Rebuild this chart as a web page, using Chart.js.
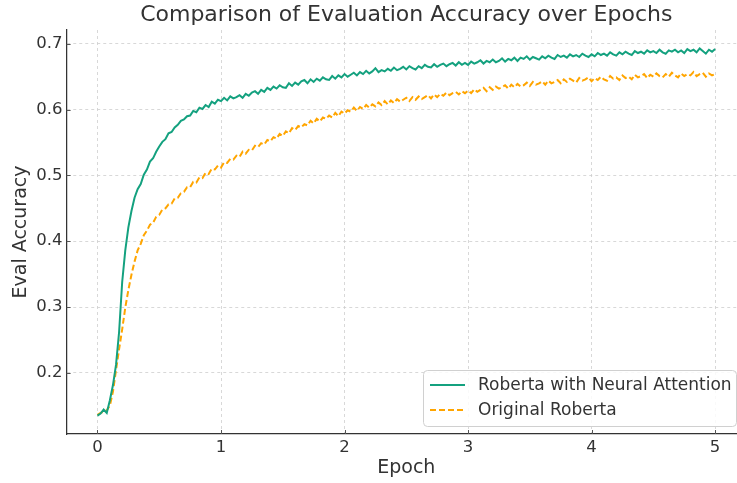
<!DOCTYPE html>
<html>
<head>
<meta charset="utf-8">
<script src="https://cdn.jsdelivr.net/npm/chart.js@4.4.1/dist/chart.umd.min.js"></script>
<style>
  html, body { margin: 0; padding: 0; background: #fff; overflow: hidden; }
  #wrap { width: 760px; height: 483px; position: relative; }
</style>
</head>
<body>
<div id="wrap"><canvas id="accChart"></canvas></div>
<script>
// epochs sampled every 0.025 (201 points, 0 .. 5)
const epochStep = 0.025;
const epochs = Array.from({ length: 201 }, (_, i) => +(i * epochStep).toFixed(3));

const xTicks = [0, 1, 2, 3, 4, 5];
const yTicks = [0.2, 0.3, 0.4, 0.5, 0.6, 0.7];

const neuralAttention = [
  0.135, 0.138, 0.144, 0.139, 0.158, 0.181, 0.212, 0.262,
  0.338, 0.386, 0.421, 0.446, 0.466, 0.479, 0.487, 0.501,
  0.509, 0.521, 0.526, 0.536, 0.544, 0.551, 0.555, 0.564,
  0.566, 0.573, 0.577, 0.583, 0.585, 0.590, 0.591, 0.598,
  0.596, 0.603, 0.601, 0.607, 0.604, 0.612, 0.609, 0.615,
  0.613, 0.618, 0.614, 0.620, 0.617, 0.619, 0.622, 0.618,
  0.624, 0.621, 0.626, 0.628, 0.624, 0.630, 0.627, 0.633,
  0.630, 0.635, 0.632, 0.637, 0.634, 0.633, 0.640, 0.636,
  0.641, 0.638, 0.643, 0.645, 0.640, 0.646, 0.642, 0.647,
  0.644, 0.649, 0.646, 0.645, 0.651, 0.647, 0.652, 0.649,
  0.654, 0.650, 0.653, 0.656, 0.652, 0.657, 0.654, 0.659,
  0.655, 0.658, 0.663, 0.657, 0.660, 0.658, 0.662, 0.659,
  0.664, 0.660, 0.662, 0.665, 0.661, 0.666, 0.663, 0.661,
  0.666, 0.663, 0.668, 0.665, 0.664, 0.669, 0.665, 0.668,
  0.670, 0.666, 0.669, 0.671, 0.667, 0.672, 0.668, 0.671,
  0.668, 0.673, 0.670, 0.672, 0.675, 0.670, 0.674, 0.672,
  0.676, 0.672, 0.674, 0.678, 0.673, 0.677, 0.675, 0.679,
  0.674, 0.679, 0.677, 0.681, 0.676, 0.680, 0.678, 0.676,
  0.681, 0.678, 0.682, 0.679, 0.677, 0.683, 0.680, 0.682,
  0.679, 0.684, 0.681, 0.683, 0.680, 0.685, 0.682, 0.680,
  0.684, 0.681, 0.686, 0.683, 0.685, 0.682, 0.687, 0.684,
  0.682, 0.687, 0.684, 0.688, 0.685, 0.683, 0.689, 0.686,
  0.688, 0.685, 0.690, 0.687, 0.689, 0.686, 0.691, 0.687,
  0.685, 0.690, 0.688, 0.691, 0.687, 0.690, 0.686, 0.692,
  0.689, 0.691, 0.687, 0.693, 0.689, 0.685, 0.691, 0.688,
  0.692
];

const originalRoberta = [
  0.136, 0.139, 0.141, 0.143, 0.150, 0.171, 0.204, 0.236,
  0.266, 0.299, 0.326, 0.349, 0.369, 0.386, 0.396, 0.409,
  0.416, 0.425, 0.428, 0.437, 0.440, 0.448, 0.450, 0.456,
  0.457, 0.465, 0.466, 0.473, 0.475, 0.482, 0.482, 0.490,
  0.489, 0.497, 0.496, 0.504, 0.502, 0.510, 0.509, 0.515,
  0.512, 0.520, 0.519, 0.525, 0.524, 0.530, 0.528, 0.536,
  0.533, 0.539, 0.538, 0.545, 0.543, 0.549, 0.547, 0.554,
  0.552, 0.558, 0.556, 0.563, 0.560, 0.567, 0.564, 0.572,
  0.569, 0.575, 0.573, 0.578, 0.576, 0.583, 0.579, 0.586,
  0.582, 0.588, 0.586, 0.591, 0.588, 0.595, 0.590, 0.597,
  0.594, 0.599, 0.597, 0.603, 0.598, 0.604, 0.601, 0.607,
  0.603, 0.608, 0.605, 0.611, 0.607, 0.613, 0.608, 0.614,
  0.610, 0.616, 0.612, 0.615, 0.618, 0.613, 0.619, 0.615,
  0.620, 0.616, 0.619, 0.622, 0.617, 0.623, 0.619, 0.624,
  0.621, 0.626, 0.622, 0.625, 0.627, 0.623, 0.628, 0.625,
  0.629, 0.625, 0.631, 0.627, 0.630, 0.633, 0.628, 0.634,
  0.630, 0.635, 0.632, 0.634, 0.637, 0.632, 0.638, 0.634,
  0.639, 0.635, 0.637, 0.641, 0.636, 0.642, 0.638, 0.640,
  0.643, 0.638, 0.644, 0.640, 0.642, 0.645, 0.640, 0.646,
  0.642, 0.647, 0.644, 0.641, 0.648, 0.644, 0.646, 0.649,
  0.643, 0.648, 0.645, 0.650, 0.646, 0.644, 0.651, 0.647,
  0.649, 0.645, 0.652, 0.648, 0.650, 0.646, 0.653, 0.649,
  0.651, 0.654, 0.648, 0.653, 0.650, 0.655, 0.651, 0.649,
  0.654, 0.650, 0.656, 0.652, 0.649, 0.655, 0.651, 0.654,
  0.652, 0.657, 0.651, 0.654, 0.656, 0.650, 0.655, 0.652,
  0.654
];

const green = "#14a17f";
const orange = "#ffa500";
const textColor = "#333333";
const fontFamily = "'DejaVu Sans', sans-serif";

const toPoints = (vals) => vals.map((v, i) => ({ x: epochs[i], y: v }));

// title, inward tick marks and matplotlib-like legend box drawn on the canvas
const extrasPlugin = {
  id: "extras",
  afterDraw(chart) {
    const { ctx, chartArea, scales } = chart;
    ctx.save();

    ctx.strokeStyle = "#555";
    ctx.lineWidth = 1;
    ctx.beginPath();
    xTicks.forEach((v) => {
      const x = Math.round(scales.x.getPixelForValue(v)) + 0.5;
      ctx.moveTo(x, chartArea.bottom);
      ctx.lineTo(x, chartArea.bottom - 4);
    });
    yTicks.forEach((v) => {
      const y = Math.round(scales.y.getPixelForValue(v)) + 0.5;
      ctx.moveTo(chartArea.left, y);
      ctx.lineTo(chartArea.left + 4, y);
    });
    ctx.stroke();

    ctx.fillStyle = textColor;
    ctx.font = "22px " + fontFamily;
    ctx.textAlign = "center";
    ctx.textBaseline = "middle";
    ctx.fillText("Comparison of Evaluation Accuracy over Epochs", (chartArea.left + chartArea.right) / 2, 15);

    const boxW = 313, boxH = 56;
    const bx = chartArea.right - 10 - boxW;
    const by = chartArea.bottom - 8 - boxH;
    ctx.fillStyle = "rgba(255,255,255,0.85)";
    ctx.strokeStyle = "#d0d0d0";
    ctx.lineWidth = 1;
    ctx.beginPath();
    ctx.roundRect(bx + 0.5, by + 0.5, boxW, boxH, 4);
    ctx.fill();
    ctx.stroke();

    const items = [
      { label: "Roberta with Neural Attention", color: green, dash: [] },
      { label: "Original Roberta", color: orange, dash: [6, 3] },
    ];
    ctx.font = "17px " + fontFamily;
    ctx.textAlign = "left";
    items.forEach((it, k) => {
      const y = by + 15 + k * 25;
      ctx.strokeStyle = it.color;
      ctx.lineWidth = 2;
      ctx.setLineDash(it.dash);
      ctx.beginPath();
      ctx.moveTo(bx + 7, y);
      ctx.lineTo(bx + 42, y);
      ctx.stroke();
      ctx.setLineDash([]);
      ctx.fillStyle = textColor;
      ctx.fillText(it.label, bx + 55, y + 1);
    });
    ctx.restore();
  },
};

new Chart(document.getElementById("accChart"), {
  type: "line",
  data: {
    datasets: [
      {
        label: "Roberta with Neural Attention",
        data: toPoints(neuralAttention),
        borderColor: green,
        borderWidth: 2,
        pointRadius: 0,
        tension: 0,
        fill: false,
      },
      {
        label: "Original Roberta",
        data: toPoints(originalRoberta),
        borderColor: orange,
        borderWidth: 2,
        borderDash: [6, 3],
        pointRadius: 0,
        tension: 0,
        fill: false,
      },
    ],
  },
  options: {
    responsive: true,
    maintainAspectRatio: false,
    animation: false,
    layout: { padding: { top: 30, right: 14, left: 0, bottom: 0 } },
    plugins: {
      legend: { display: false },
      title: { display: false },
      tooltip: { enabled: false },
    },
    scales: {
      x: {
        type: "linear",
        min: -0.25,
        max: 5.25,
        afterBuildTicks: (s) => { s.ticks = xTicks.map((v) => ({ value: v })); },
        afterFit: (s) => { s.height = 49; },
        grid: { color: "#cfcfcf", lineWidth: 0.8, drawTicks: false },
        border: { display: true, color: "#333", width: 1.25, dash: [3, 3] },
        ticks: {
          color: textColor,
          padding: 4,
          font: { family: fontFamily, size: 16.5 },
          callback: (v) => String(v),
        },
        title: {
          display: true,
          text: "Epoch",
          color: textColor,
          font: { family: fontFamily, size: 19 },
          padding: { top: 0, bottom: 4 },
        },
      },
      y: {
        min: 0.107,
        max: 0.721,
        afterBuildTicks: (s) => { s.ticks = yTicks.map((v) => ({ value: v })); },
        afterFit: (s) => { s.width = 66.6; },
        grid: { color: "#cfcfcf", lineWidth: 0.8, drawTicks: false },
        border: { display: true, color: "#333", width: 1.25, dash: [3, 3] },
        ticks: {
          color: textColor,
          padding: 4,
          font: { family: fontFamily, size: 16.5 },
          callback: (v) => v.toFixed(1),
        },
        title: {
          display: true,
          text: "Eval Accuracy",
          color: textColor,
          font: { family: fontFamily, size: 19 },
          padding: { top: 10, bottom: 0 },
        },
      },
    },
  },
  plugins: [extrasPlugin],
});
</script>
</body>
</html>
